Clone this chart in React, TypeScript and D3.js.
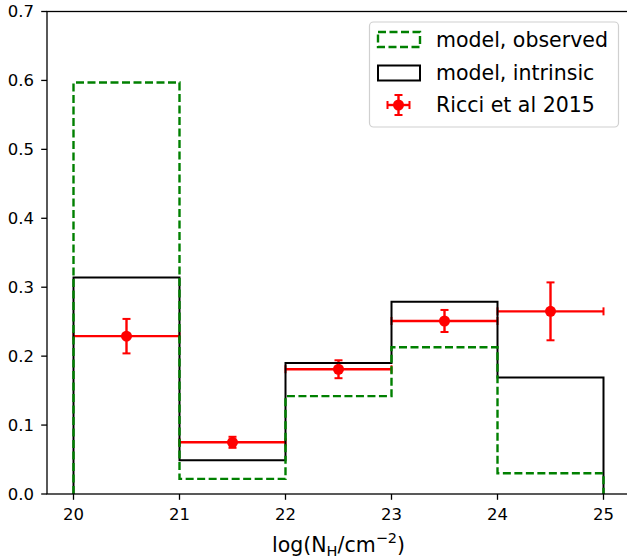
import { useEffect, useRef } from 'react'
import * as d3 from 'd3'

// histogram bin edges in log(N_H)
const binEdges = [20, 21, 22, 23, 24, 25]
const observed = [0.597, 0.022, 0.142, 0.213, 0.030]
const intrinsic = [0.314, 0.049, 0.190, 0.279, 0.169]

// Ricci et al 2015 points
const ricciX = [20.5, 21.5, 22.5, 23.5, 24.5]
const ricciY = [0.229, 0.075, 0.181, 0.251, 0.265]
const ricciYErr = [0.025, 0.008, 0.013, 0.016, 0.042]
const ricciXErr = [0.5, 0.5, 0.5, 0.5, 0.5]

const xTicks = [20, 21, 22, 23, 24, 25]
const yTicks = [0, 0.1, 0.2, 0.3, 0.4, 0.5, 0.6, 0.7]

const legendLabels = ['model, observed', 'model, intrinsic', 'Ricci et al 2015']

export default function App() {
  const ref = useRef<SVGSVGElement>(null)

  useEffect(() => {
    if (!ref.current) return
    const svg = d3.select(ref.current)
    svg.selectAll('*').remove()

    const width = 627
    const height = 560
    const left = 47, right = 630, top = 11.5, bottom = 494
    const font = 'DejaVu Sans, sans-serif'

    svg.attr('width', width).attr('height', height)

    const x = d3.scaleLinear().domain([19.75, 25.25]).range([left, right])
    const y = d3.scaleLinear().domain([0, 0.7]).range([bottom, top])

    const stepPoints = (vals: number[]) => {
      const pts: [number, number][] = [[binEdges[0], 0]]
      vals.forEach((v, i) => {
        pts.push([binEdges[i], v])
        pts.push([binEdges[i + 1], v])
      })
      pts.push([binEdges[binEdges.length - 1], 0])
      return pts
    }
    const line = d3.line<[number, number]>().x(d => x(d[0])).y(d => y(d[1]))

    const g = svg.append('g')

    // Ricci errorbars (drawn under the histogram outlines)
    const red = '#ff0000'
    const cap = 4
    const markers = svg.append('g')
    ricciX.forEach((xv, i) => {
      const yv = ricciY[i]
      g.append('line')
        .attr('x1', x(xv - ricciXErr[i])).attr('x2', x(xv + ricciXErr[i]))
        .attr('y1', y(yv)).attr('y2', y(yv))
        .attr('stroke', red).attr('stroke-width', 2.4)
      g.append('line')
        .attr('x1', x(xv)).attr('x2', x(xv))
        .attr('y1', y(yv - ricciYErr[i])).attr('y2', y(yv + ricciYErr[i]))
        .attr('stroke', red).attr('stroke-width', 2.4)
      // caps
      ;[yv - ricciYErr[i], yv + ricciYErr[i]].forEach(c => {
        g.append('line')
          .attr('x1', x(xv) - cap).attr('x2', x(xv) + cap)
          .attr('y1', y(c)).attr('y2', y(c))
          .attr('stroke', red).attr('stroke-width', 2)
      })
      ;[xv - ricciXErr[i], xv + ricciXErr[i]].forEach(c => {
        g.append('line')
          .attr('x1', x(c)).attr('x2', x(c))
          .attr('y1', y(yv) - cap).attr('y2', y(yv) + cap)
          .attr('stroke', red).attr('stroke-width', 2)
      })
      markers.append('circle')
        .attr('cx', x(xv)).attr('cy', y(yv)).attr('r', 5.5)
        .attr('fill', red)
    })

    // intrinsic (black)
    g.append('path')
      .attr('d', line(stepPoints(intrinsic)))
      .attr('fill', 'none')
      .attr('stroke', '#000')
      .attr('stroke-width', 2)
      .attr('stroke-linejoin', 'miter')

    // observed (green dashed)
    g.append('path')
      .attr('d', line(stepPoints(observed)))
      .attr('fill', 'none')
      .attr('stroke', '#008000')
      .attr('stroke-width', 2.4)
      .attr('stroke-dasharray', '8,3.5')

    // Spines
    svg.append('rect')
      .attr('x', left).attr('y', top)
      .attr('width', right - left).attr('height', bottom - top)
      .attr('fill', 'none').attr('stroke', '#000').attr('stroke-width', 1.3)

    // Axes ticks
    xTicks.forEach(t => {
      svg.append('line')
        .attr('x1', x(t)).attr('x2', x(t))
        .attr('y1', bottom).attr('y2', bottom + 5.8)
        .attr('stroke', '#000').attr('stroke-width', 1.3)
      svg.append('text')
        .attr('x', x(t)).attr('y', 520)
        .attr('text-anchor', 'middle')
        .attr('font-family', font).attr('font-size', '16.5px')
        .attr('fill', '#000')
        .text(d3.format('d')(t))
    })
    yTicks.forEach(t => {
      svg.append('line')
        .attr('x1', left - 5.8).attr('x2', left)
        .attr('y1', y(t)).attr('y2', y(t))
        .attr('stroke', '#000').attr('stroke-width', 1.3)
      svg.append('text')
        .attr('x', 34).attr('y', y(t))
        .attr('dy', '0.36em')
        .attr('text-anchor', 'end')
        .attr('font-family', font).attr('font-size', '16.5px')
        .attr('fill', '#000')
        .text(d3.format('.1f')(t))
    })

    // X label: log(N_H/cm^-2)
    const xl = svg.append('text')
      .attr('x', (left + right) / 2).attr('y', 552)
      .attr('text-anchor', 'middle')
      .attr('font-family', font).attr('font-size', '20.5px')
      .attr('fill', '#000')
    xl.append('tspan').text('log(N')
    xl.append('tspan').attr('font-size', '14.5px').attr('dy', 4).text('H')
    xl.append('tspan').attr('dy', -4).text('/cm')
    xl.append('tspan').attr('font-size', '14.5px').attr('dy', -9).text('\u22122')
    xl.append('tspan').attr('dy', 9).text(')')

    // Legend
    const lg = svg.append('g')
    lg.append('rect')
      .attr('x', 369.5).attr('y', 22)
      .attr('width', 249).attr('height', 105)
      .attr('rx', 4)
      .attr('fill', '#fff').attr('fill-opacity', 0.8)
      .attr('stroke', '#d0d0d0').attr('stroke-width', 1.2)

    const rowsY = [39.5, 73, 105]
    lg.append('rect')
      .attr('x', 378).attr('y', rowsY[0] - 7.5)
      .attr('width', 42).attr('height', 15)
      .attr('fill', 'none').attr('stroke', '#008000')
      .attr('stroke-width', 2.4).attr('stroke-dasharray', '8,3.5')
    lg.append('rect')
      .attr('x', 378).attr('y', rowsY[1] - 7.5)
      .attr('width', 42).attr('height', 15)
      .attr('fill', 'none').attr('stroke', '#000').attr('stroke-width', 2)

    const mx = 398.5, my = rowsY[2]
    lg.append('line').attr('x1', mx - 11).attr('x2', mx + 11).attr('y1', my).attr('y2', my)
      .attr('stroke', red).attr('stroke-width', 2.4)
    lg.append('line').attr('x1', mx).attr('x2', mx).attr('y1', my - 10).attr('y2', my + 10)
      .attr('stroke', red).attr('stroke-width', 2.4)
    ;[-10, 10].forEach(o => {
      lg.append('line').attr('x1', mx - cap).attr('x2', mx + cap).attr('y1', my + o).attr('y2', my + o)
        .attr('stroke', red).attr('stroke-width', 2)
    })
    ;[-11, 11].forEach(o => {
      lg.append('line').attr('x1', mx + o).attr('x2', mx + o).attr('y1', my - cap).attr('y2', my + cap)
        .attr('stroke', red).attr('stroke-width', 2)
    })
    lg.append('circle').attr('cx', mx).attr('cy', my).attr('r', 5.5).attr('fill', red)

    legendLabels.forEach((l, i) => {
      lg.append('text')
        .attr('x', 436).attr('y', rowsY[i])
        .attr('dy', '0.36em')
        .attr('font-family', font).attr('font-size', '20.5px')
        .attr('fill', '#000')
        .text(l)
    })
  }, [])

  return (
    <div style={{ position: 'absolute', left: 0, top: 0 }}>
      <svg ref={ref} style={{ display: 'block' }} />
    </div>
  )
}
